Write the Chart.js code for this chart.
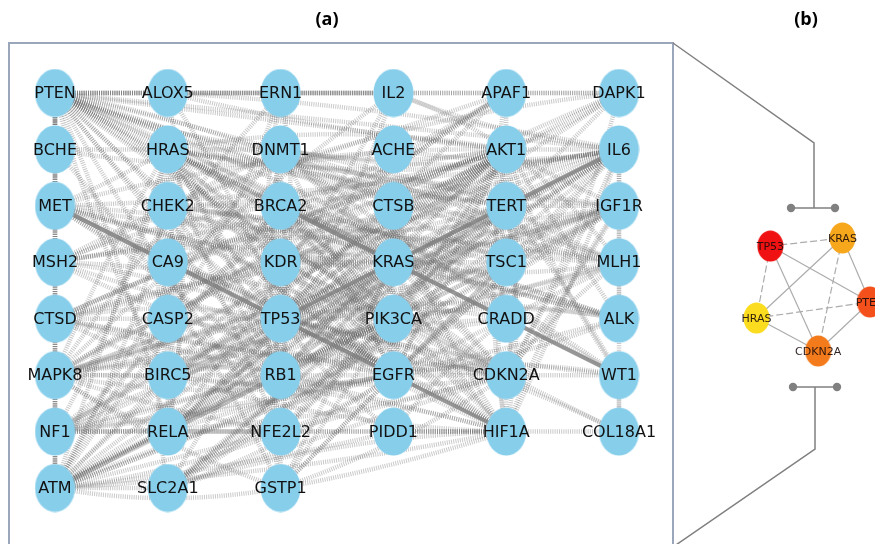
<!DOCTYPE html>
<html>
<head>
<meta charset="utf-8">
<script src="https://cdn.jsdelivr.net/npm/chart.js@4.4.1/dist/chart.umd.min.js"></script>
<style>
  html, body { margin: 0; padding: 0; background: #ffffff; }
  #wrap { position: relative; width: 875px; height: 544px; overflow: hidden; }
  #wrap canvas { position: absolute; left: 0; top: 0; }
</style>
</head>
<body>
<div id="wrap">
  <canvas id="netA" width="875" height="544"></canvas>
  <canvas id="netB" width="875" height="544"></canvas>
</div>
<script>
// ---- panel (a): genes laid out in six columns, top to bottom ----
const column1 = ["PTEN", "BCHE", "MET", "MSH2", "CTSD", "MAPK8", "NF1", "ATM"];
const column2 = ["ALOX5", "HRAS", "CHEK2", "CA9", "CASP2", "BIRC5", "RELA", "SLC2A1"];
const column3 = ["ERN1", "DNMT1", "BRCA2", "KDR", "TP53", "RB1", "NFE2L2", "GSTP1"];
const column4 = ["IL2", "ACHE", "CTSB", "KRAS", "PIK3CA", "EGFR", "PIDD1"];
const column5 = ["APAF1", "AKT1", "TERT", "TSC1", "CRADD", "CDKN2A", "HIF1A"];
const column6 = ["DAPK1", "IL6", "IGF1R", "MLH1", "ALK", "WT1", "COL18A1"];
const geneColumns = [column1, column2, column3, column4, column5, column6];

// interactions, "gene: partner partner ..."
const interactionsA = [
  "TP53: PTEN MET MSH2 CTSD MAPK8 NF1 ATM ALOX5 HRAS CHEK2 CA9 CASP2 BIRC5 RELA SLC2A1 ERN1 DNMT1 BRCA2 KDR RB1 NFE2L2 GSTP1 IL2 CTSB KRAS PIK3CA EGFR PIDD1 APAF1 AKT1 TERT TSC1 CRADD CDKN2A HIF1A DAPK1 IGF1R MLH1 ALK WT1 COL18A1",
  "AKT1: PTEN MET MSH2 CTSD MAPK8 NF1 ATM ALOX5 HRAS CHEK2 CA9 CASP2 BIRC5 RELA SLC2A1 DNMT1 BRCA2 KDR RB1 NFE2L2 GSTP1 IL2 CTSB KRAS PIK3CA EGFR APAF1 TERT TSC1 CDKN2A HIF1A DAPK1 IL6 IGF1R MLH1 ALK WT1",
  "EGFR: PTEN MET MSH2 CTSD MAPK8 NF1 ATM HRAS CHEK2 CA9 BIRC5 RELA SLC2A1 DNMT1 BRCA2 KDR RB1 NFE2L2 GSTP1 CTSB KRAS PIK3CA TERT TSC1 CDKN2A HIF1A IL6 IGF1R MLH1 ALK WT1",
  "KRAS: PTEN MET MSH2 CTSD MAPK8 NF1 ATM HRAS CHEK2 BIRC5 RELA SLC2A1 DNMT1 BRCA2 KDR RB1 NFE2L2 GSTP1 CTSB PIK3CA TERT TSC1 CDKN2A HIF1A IL6 IGF1R MLH1 ALK",
  "PTEN: ALOX5 APAF1 DAPK1 BCHE ATM NF1 MAPK8 MSH2 MET HRAS DNMT1 CHEK2 BRCA2 KDR PIK3CA TERT TSC1 CDKN2A HIF1A IL6 IGF1R MLH1 ALK WT1 RB1 BIRC5 RELA NFE2L2 CTSB IL2",
  "HRAS: BCHE MET MAPK8 NF1 ATM CHEK2 BIRC5 RELA DNMT1 BRCA2 KDR RB1 NFE2L2 PIK3CA TERT TSC1 CDKN2A HIF1A IL6 IGF1R ALK MLH1",
  "PIK3CA: MET NF1 ATM MSH2 BIRC5 RELA SLC2A1 KDR RB1 NFE2L2 BRCA2 TERT TSC1 CDKN2A HIF1A IL6 IGF1R ALK MLH1",
  "CDKN2A: MSH2 MAPK8 NF1 ATM CHEK2 BIRC5 DNMT1 BRCA2 RB1 TERT HIF1A IL6 MLH1 WT1 DAPK1 CTSD IGF1R GSTP1 SLC2A1",
  "HIF1A: MAPK8 ATM CA9 BIRC5 RELA SLC2A1 KDR NFE2L2 CTSB CTSD TERT TSC1 IL6 IGF1R COL18A1 PIDD1 GSTP1",
  "IL6: ALOX5 IL2 ACHE MAPK8 ATM RELA BIRC5 KDR RB1 MET CTSB TERT IGF1R CTSD DNMT1 SLC2A1 COL18A1 GSTP1",
  "ATM: CHEK2 BRCA2 MSH2 MLH1 RB1 NFE2L2 RELA MAPK8 NF1 TERT IGF1R GSTP1 PIDD1 DNMT1 BIRC5 TSC1 CASP2 SLC2A1",
  "CHEK2: MSH2 MLH1 BRCA2 RB1 BIRC5 DAPK1 APAF1 TERT CASP2",
  "MET: IGF1R ALK KDR CA9 RB1",
  "MSH2: MLH1 BRCA2 DNMT1",
  "CTSD: CTSB BIRC5 APAF1 CASP2 TERT",
  "MAPK8: RELA ERN1 BIRC5 CASP2 APAF1 DAPK1 IL2 NFE2L2 RB1 IGF1R GSTP1 CRADD",
  "NF1: RELA NFE2L2 RB1 BRCA2 TSC1 ALK IGF1R",
  "ALOX5: IL2 RELA",
  "CA9: SLC2A1",
  "CASP2: PIDD1 CRADD APAF1 BIRC5 DAPK1",
  "BIRC5: RELA APAF1 RB1 TERT",
  "RELA: NFE2L2 IL2 TERT IGF1R",
  "SLC2A1: TERT IGF1R",
  "ERN1: NFE2L2 CASP2",
  "DNMT1: RB1 MLH1 TERT WT1 BRCA2",
  "BRCA2: RB1 MLH1 TERT",
  "KDR: IGF1R ALK COL18A1",
  "RB1: TERT",
  "NFE2L2: GSTP1",
  "ACHE: BCHE",
  "PIDD1: CRADD",
  "APAF1: DAPK1 CRADD",
  "TERT: WT1 MLH1 IGF1R DAPK1",
  "TSC1: IGF1R",
  "WT1: COL18A1",
  "IGF1R: ALK",
  "BCHE: GSTP1"
];
// interactions drawn as solid heavier lines
const solidInteractionsA = [["MET", "HIF1A"], ["BRCA2", "WT1"], ["TP53", "IL6"]];

// ---- panel (b): core sub-network ----
const coreGenes = ["TP53", "KRAS", "PTEN", "HRAS", "CDKN2A"];
const coreX = [0.122, 0.757, 1.0, 0.0, 0.543];
const coreY = [0.071, 0.0, 0.566, 0.708, 1.0];
const coreColors = ["#f01212", "#f7a71c", "#f4501c", "#fbdc1e", "#f47b1b"];
const coreSolid = [["TP53", "CDKN2A"], ["TP53", "PTEN"], ["KRAS", "HRAS"], ["KRAS", "PTEN"], ["HRAS", "CDKN2A"], ["CDKN2A", "PTEN"]];
const coreDashed = [["TP53", "KRAS"], ["TP53", "HRAS"], ["KRAS", "CDKN2A"], ["HRAS", "PTEN"]];

// ---- build lookup tables ----
const gridPos = {};
geneColumns.forEach((col, c) => col.forEach((g, r) => { gridPos[g] = { x: c, y: r }; }));
const nodesA = Object.keys(gridPos).map(g => ({ x: gridPos[g].x, y: gridPos[g].y, gene: g }));
const lastCol = geneColumns.length - 1;

const pairsA = [];
const seenPairs = new Set();
interactionsA.forEach(line => {
  const parts = line.split(':');
  const src = parts[0].trim();
  parts[1].trim().split(/\s+/).forEach(t => {
    const key = [src, t].sort().join('|');
    if (src !== t && !seenPairs.has(key)) { seenPairs.add(key); pairsA.push([src, t]); }
  });
});

const corePos = {};
coreGenes.forEach((g, i) => { corePos[g] = { x: coreX[i], y: coreY[i] }; });
const nodesB = coreGenes.map((g, i) => ({ x: coreX[i], y: coreY[i], gene: g }));

function ellipseSprite(w, h, color) {
  const c = document.createElement('canvas');
  c.width = w; c.height = h;
  const g = c.getContext('2d');
  g.fillStyle = color;
  g.beginPath();
  g.ellipse(w / 2, h / 2, w / 2 - 0.5, h / 2 - 0.5, 0, 0, Math.PI * 2);
  g.fill();
  return c;
}

const nodeSpriteA = ellipseSprite(41, 49, '#87ceeb');
const nodeSpritesB = coreColors.map(c => ellipseSprite(27, 32, c));

// bend of an edge: short or outer-row/column runs stay straight, the rest arc gently
function edgeBend(p, q, i) {
  const aligned = p.x === q.x || p.y === q.y;
  if (aligned) {
    const span = Math.abs(p.x - q.x) + Math.abs(p.y - q.y);
    const outer = (p.y === q.y && (p.y === 0 || p.y === 6)) || (p.x === q.x && (p.x === 0 || p.x === lastCol));
    if (span === 1 || outer) return 0;
    return (i % 2 ? 1 : -1) * 0.09;
  }
  return ((i * 7) % 5 - 2) * 0.035;
}

// ---- plugin: edges, labels and frame for panel (a) ----
const panelAPlugin = {
  id: 'panelA',
  beforeDraw(chart) {
    const ctx = chart.ctx;
    ctx.save();
    ctx.fillStyle = '#ffffff';
    ctx.fillRect(0, 0, chart.width, chart.height);
    // panel frame
    ctx.strokeStyle = '#9aa6ba';
    ctx.lineWidth = 2;
    ctx.strokeRect(9, 43, 664, 620);
    // panel titles
    ctx.fillStyle = '#000000';
    ctx.font = 'bold 18px "Open Sans", "DejaVu Sans", sans-serif';
    ctx.textAlign = 'center';
    ctx.textBaseline = 'middle';
    ctx.fillText('(a)', 327, 20);
    ctx.fillText('(b)', 806, 20);
    ctx.restore();
  },
  beforeDatasetsDraw(chart) {
    const { ctx, scales: { x, y } } = chart;
    ctx.save();
    ctx.lineCap = 'butt';
    ctx.setLineDash([1, 1.2]);
    ctx.lineWidth = 4.5;
    ctx.strokeStyle = 'rgba(105,105,105,0.36)';
    pairsA.forEach(([a, b], i) => {
      const p = gridPos[a], q = gridPos[b];
      const x1 = x.getPixelForValue(p.x), y1 = y.getPixelForValue(p.y);
      const x2 = x.getPixelForValue(q.x), y2 = y.getPixelForValue(q.y);
      const k = edgeBend(p, q, i);
      ctx.beginPath();
      ctx.moveTo(x1, y1);
      if (k === 0) {
        ctx.lineTo(x2, y2);
      } else {
        const mx = (x1 + x2) / 2, my = (y1 + y2) / 2;
        ctx.quadraticCurveTo(mx - (y2 - y1) * k, my + (x2 - x1) * k, x2, y2);
      }
      ctx.stroke();
    });
    ctx.setLineDash([]);
    ctx.lineWidth = 4;
    ctx.strokeStyle = 'rgba(125,125,125,0.8)';
    solidInteractionsA.forEach(([a, b]) => {
      const p = gridPos[a], q = gridPos[b];
      ctx.beginPath();
      ctx.moveTo(x.getPixelForValue(p.x), y.getPixelForValue(p.y));
      ctx.lineTo(x.getPixelForValue(q.x), y.getPixelForValue(q.y));
      ctx.stroke();
    });
    ctx.restore();
  },
  afterDatasetsDraw(chart) {
    const { ctx, scales: { x, y } } = chart;
    ctx.save();
    ctx.fillStyle = '#111111';
    ctx.font = '16px "DejaVu Sans", sans-serif';
    ctx.textAlign = 'center';
    ctx.textBaseline = 'middle';
    nodesA.forEach(n => ctx.fillText(n.gene, x.getPixelForValue(n.x), y.getPixelForValue(n.y) + 1));
    ctx.restore();
  }
};

new Chart(document.getElementById('netA'), {
  type: 'scatter',
  data: {
    datasets: [{
      data: nodesA,
      pointStyle: nodeSpriteA,
      clip: false
    }]
  },
  options: {
    responsive: false,
    animation: false,
    devicePixelRatio: 1,
    layout: { padding: { left: 55, right: 256, top: 93, bottom: 56 } },
    scales: {
      x: { type: 'linear', min: 0, max: 5, display: false },
      y: { type: 'linear', min: 0, max: 7, reverse: true, display: false }
    },
    plugins: { legend: { display: false }, tooltip: { enabled: false }, title: { display: false } },
    events: []
  },
  plugins: [panelAPlugin]
});

// ---- plugin: bracket, edges and labels for panel (b) ----
const panelBPlugin = {
  id: 'panelB',
  beforeDatasetsDraw(chart) {
    const { ctx, scales: { x, y } } = chart;
    ctx.save();
    // bracket linking the two panels
    ctx.strokeStyle = '#808080';
    ctx.fillStyle = '#808080';
    ctx.lineWidth = 1.5;
    ctx.beginPath();
    ctx.moveTo(673, 43); ctx.lineTo(814, 143); ctx.lineTo(814, 208);
    ctx.moveTo(791, 208); ctx.lineTo(835, 208);
    ctx.moveTo(793, 387); ctx.lineTo(837, 387);
    ctx.moveTo(815, 387); ctx.lineTo(815, 449); ctx.lineTo(673, 547);
    ctx.stroke();
    [[791, 208], [835, 208], [793, 387], [837, 387]].forEach(([cx, cy]) => {
      ctx.beginPath(); ctx.arc(cx, cy, 4.2, 0, Math.PI * 2); ctx.fill();
    });
    // core interactions
    ctx.strokeStyle = '#acacac';
    ctx.lineWidth = 1.2;
    const seg = ([a, b]) => {
      ctx.beginPath();
      ctx.moveTo(x.getPixelForValue(corePos[a].x), y.getPixelForValue(corePos[a].y));
      ctx.lineTo(x.getPixelForValue(corePos[b].x), y.getPixelForValue(corePos[b].y));
      ctx.stroke();
    };
    coreSolid.forEach(seg);
    ctx.setLineDash([7, 3]);
    coreDashed.forEach(seg);
    ctx.restore();
  },
  afterDatasetsDraw(chart) {
    const { ctx, scales: { x, y } } = chart;
    ctx.save();
    ctx.fillStyle = 'rgba(25,10,10,0.9)';
    ctx.font = '11px "DejaVu Sans", sans-serif';
    ctx.textAlign = 'center';
    ctx.textBaseline = 'middle';
    nodesB.forEach(n => ctx.fillText(n.gene, x.getPixelForValue(n.x), y.getPixelForValue(n.y) + 1));
    ctx.restore();
  }
};

new Chart(document.getElementById('netB'), {
  type: 'scatter',
  data: {
    datasets: [{
      data: nodesB,
      pointStyle: nodeSpritesB,
      clip: false
    }]
  },
  options: {
    responsive: false,
    animation: false,
    devicePixelRatio: 1,
    layout: { padding: { left: 756.5, right: 3.5, top: 238, bottom: 193 } },
    scales: {
      x: { type: 'linear', min: 0, max: 1, display: false },
      y: { type: 'linear', min: 0, max: 1, reverse: true, display: false }
    },
    plugins: { legend: { display: false }, tooltip: { enabled: false }, title: { display: false } },
    events: []
  },
  plugins: [panelBPlugin]
});
</script>
</body>
</html>
